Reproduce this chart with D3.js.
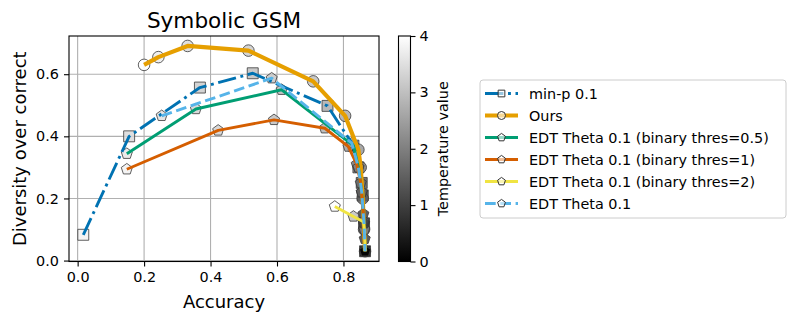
<!DOCTYPE html>
<html>
<head>
<meta charset="utf-8">
<script src="https://cdn.jsdelivr.net/npm/d3@7"></script>
<style>
  body { margin: 0; background: #fff; }
  text { font-family: "DejaVu Sans", sans-serif; fill: #000; }
</style>
</head>
<body>
<div id="chart"></div>
<script>
// series data (accuracy, diversity over correct, temperature)
const minpX = [0.017, 0.155, 0.368, 0.527, 0.752, 0.830, 0.845, 0.855, 0.858, 0.862, 0.865];
const minpY = [0.083, 0.400, 0.557, 0.603, 0.498, 0.370, 0.300, 0.250, 0.210, 0.120, 0.030];
const minpT = [3.8, 3.4, 3.2, 3.0, 2.7, 2.3, 2.0, 1.4, 1.1, 0.7, 0.1];

const oursX = [0.200, 0.243, 0.331, 0.514, 0.709, 0.805, 0.845, 0.852, 0.858, 0.862, 0.865];
const oursY = [0.630, 0.655, 0.691, 0.676, 0.577, 0.466, 0.357, 0.300, 0.200, 0.100, 0.030];
const oursT = [4.0, 3.7, 3.4, 3.2, 3.0, 2.7, 2.4, 2.0, 1.5, 1.0, 0.1];

const edt05X = [0.148, 0.356, 0.614, 0.830, 0.845, 0.855, 0.862, 0.865];
const edt05Y = [0.344, 0.488, 0.550, 0.370, 0.300, 0.220, 0.120, 0.030];
const edt05T = [3.6, 3.3, 2.9, 2.4, 2.0, 1.5, 0.9, 0.1];

const edt1X = [0.148, 0.423, 0.591, 0.744, 0.815, 0.840, 0.852, 0.860, 0.865];
const edt1Y = [0.294, 0.419, 0.453, 0.426, 0.367, 0.310, 0.250, 0.150, 0.030];
const edt1T = [3.8, 3.3, 3.0, 2.8, 2.5, 2.2, 1.7, 1.0, 0.1];

const edt2X = [0.774, 0.830, 0.860, 0.863, 0.864, 0.865];
const edt2Y = [0.174, 0.142, 0.125, 0.100, 0.070, 0.030];
const edt2T = [4.0, 3.0, 2.5, 2.0, 1.0, 0.1];

const edtX = [0.253, 0.584, 0.825, 0.845, 0.855, 0.862, 0.865];
const edtY = [0.466, 0.587, 0.378, 0.300, 0.220, 0.120, 0.030];
const edtT = [3.5, 3.1, 2.4, 2.0, 1.5, 0.9, 0.1];

const seriesNames = ["min-p 0.1", "Ours", "EDT Theta 0.1 (binary thres=0.5)",
  "EDT Theta 0.1 (binary thres=1)", "EDT Theta 0.1 (binary thres=2)", "EDT Theta 0.1"];
const xTicks = [0.0, 0.2, 0.4, 0.6, 0.8];
const yTicks = [0.0, 0.2, 0.4, 0.6];
const tempTicks = [0, 1, 2, 3, 4];

const series = [
  { name: seriesNames[0], x: minpX, y: minpY, t: minpT, color: "#0072B2", lw: 2.9, dash: "18.4,4.6,2.9,4.6", marker: "square" },
  { name: seriesNames[1], x: oursX, y: oursY, t: oursT, color: "#E69F00", lw: 4.2, dash: null, marker: "circle" },
  { name: seriesNames[2], x: edt05X, y: edt05Y, t: edt05T, color: "#009E73", lw: 2.9, dash: null, marker: "pentagon" },
  { name: seriesNames[3], x: edt1X, y: edt1Y, t: edt1T, color: "#D55E00", lw: 2.9, dash: null, marker: "pentagon" },
  { name: seriesNames[4], x: edt2X, y: edt2Y, t: edt2T, color: "#F0E442", lw: 2.9, dash: null, marker: "pentagon" },
  { name: seriesNames[5], x: edtX, y: edtY, t: edtT, color: "#56B4E9", lw: 2.9, dash: "10.7,4.6", marker: "pentagon" }
];

const width = 797, height = 322;
const margin = { top: 36, left: 69, right: 379, bottom: 261.5 };

const svg = d3.select("#chart").append("svg")
  .attr("width", width)
  .attr("height", height);

const xScale = d3.scaleLinear().domain([-0.026, 0.907]).range([margin.left, margin.right]);
const yScale = d3.scaleLinear().domain([-0.003, 0.723]).range([margin.bottom, margin.top]);
const grey = d3.scaleLinear().domain([0, 4]).range(["#000000", "#ffffff"]);

const symbols = {
  square: d3.symbol().type(d3.symbolSquare).size(120),
  circle: d3.symbol().type(d3.symbolCircle).size(105),
  pentagon: d3.symbol().type(pentagon()).size(80)
};

function pentagon() {
  return {
    draw(ctx, size) {
      const r = Math.sqrt(size / 2.3776);
      for (let i = 0; i < 5; i++) {
        const a = -Math.PI / 2 + i * 2 * Math.PI / 5;
        if (i === 0) ctx.moveTo(r * Math.cos(a), r * Math.sin(a));
        else ctx.lineTo(r * Math.cos(a), r * Math.sin(a));
      }
      ctx.closePath();
    }
  };
}

// grid
svg.append("g").selectAll("line.gx")
  .data(xTicks).enter().append("line")
  .attr("x1", d => xScale(d)).attr("x2", d => xScale(d))
  .attr("y1", margin.top).attr("y2", margin.bottom)
  .attr("stroke", "#b0b0b0").attr("stroke-width", 1.1);
svg.append("g").selectAll("line.gy")
  .data(yTicks).enter().append("line")
  .attr("y1", d => yScale(d)).attr("y2", d => yScale(d))
  .attr("x1", margin.left).attr("x2", margin.right)
  .attr("stroke", "#b0b0b0").attr("stroke-width", 1.1);

// scatter markers, coloured by temperature
series.forEach(s => {
  svg.append("g").selectAll("path")
    .data(s.x.map((x, i) => ({ x: x, y: s.y[i], t: s.t[i] })))
    .enter().append("path")
    .attr("d", symbols[s.marker])
    .attr("transform", d => `translate(${xScale(d.x)},${yScale(d.y)})`)
    .attr("fill", d => grey(d.t))
    .attr("fill-opacity", 0.85)
    .attr("stroke", "#3a3a3a")
    .attr("stroke-opacity", 0.8)
    .attr("stroke-width", 1);
});

// lines
const line = d3.line().x(d => xScale(d[0])).y(d => yScale(d[1]));
series.forEach(s => {
  svg.append("path")
    .datum(s.x.map((x, i) => [x, s.y[i]]))
    .attr("d", line)
    .attr("fill", "none")
    .attr("stroke", s.color)
    .attr("stroke-width", s.lw)
    .attr("stroke-dasharray", s.dash)
    .attr("stroke-linejoin", "round");
});

// axes
const xAxis = d3.axisBottom(xScale).tickValues(xTicks).tickFormat(d3.format(".1f")).tickSize(5).tickPadding(5);
const yAxis = d3.axisLeft(yScale).tickValues(yTicks).tickFormat(d3.format(".1f")).tickSize(5).tickPadding(5);

const gx = svg.append("g").attr("transform", `translate(0,${margin.bottom})`).call(xAxis);
const gy = svg.append("g").attr("transform", `translate(${margin.left},0)`).call(yAxis);
[gx, gy].forEach(g => {
  g.select(".domain").remove();
  g.selectAll("line").attr("stroke", "#000").attr("stroke-width", 1.1);
  g.selectAll("text").style("font-size", "14.4px").style("font-family", "DejaVu Sans");
});

svg.append("rect")
  .attr("x", margin.left).attr("y", margin.top)
  .attr("width", margin.right - margin.left).attr("height", margin.bottom - margin.top)
  .attr("fill", "none").attr("stroke", "#000").attr("stroke-width", 1.1);

svg.append("text")
  .attr("x", (margin.left + margin.right) / 2).attr("y", 28)
  .attr("text-anchor", "middle").style("font-size", "21.6px")
  .text("Symbolic GSM");
svg.append("text")
  .attr("x", (margin.left + margin.right) / 2).attr("y", 308)
  .attr("text-anchor", "middle").style("font-size", "18px")
  .text("Accuracy");
svg.append("text")
  .attr("transform", `translate(26,${(margin.top + margin.bottom) / 2}) rotate(-90)`)
  .attr("text-anchor", "middle").style("font-size", "18px")
  .text("Diversity over correct");

// colorbar
const cb = { x: 398.5, w: 12, top: margin.top, bottom: margin.bottom };
const grad = svg.append("defs").append("linearGradient")
  .attr("id", "cbgrad").attr("x1", 0).attr("x2", 0).attr("y1", 1).attr("y2", 0);
grad.append("stop").attr("offset", "0%").attr("stop-color", grey(0));
grad.append("stop").attr("offset", "100%").attr("stop-color", grey(4));
svg.append("rect")
  .attr("x", cb.x).attr("y", cb.top).attr("width", cb.w).attr("height", cb.bottom - cb.top)
  .attr("fill", "url(#cbgrad)").attr("stroke", "#000").attr("stroke-width", 1.1);
const cScale = d3.scaleLinear().domain([0, 4]).range([cb.bottom, cb.top]);
const gc = svg.append("g").attr("transform", `translate(${cb.x + cb.w},0)`)
  .call(d3.axisRight(cScale).tickValues(tempTicks).tickFormat(d3.format("d")).tickSize(5).tickPadding(4));
gc.select(".domain").remove();
gc.selectAll("line").attr("stroke", "#000").attr("stroke-width", 1.1);
gc.selectAll("text").style("font-size", "14.4px").style("font-family", "DejaVu Sans");
svg.append("text")
  .attr("transform", `translate(448,${(cb.top + cb.bottom) / 2}) rotate(-90)`)
  .attr("text-anchor", "middle").style("font-size", "14.4px")
  .text("Temperature value");

// legend
const legend = svg.append("g").attr("transform", "translate(480,80)");
legend.append("rect")
  .attr("x", 0).attr("y", 0).attr("width", 306).attr("height", 138)
  .attr("rx", 3).attr("fill", "#fff").attr("fill-opacity", 0.8)
  .attr("stroke", "#cccccc").attr("stroke-width", 1);
const legendSym = {
  square: d3.symbol().type(d3.symbolSquare).size(45),
  circle: d3.symbol().type(d3.symbolCircle).size(50),
  pentagon: d3.symbol().type(pentagon()).size(40)
};
series.forEach((s, i) => {
  const g = legend.append("g").attr("transform", `translate(0,${13.5 + i * 22})`);
  g.append("line")
    .attr("x1", 5).attr("x2", 38).attr("y1", 0).attr("y2", 0)
    .attr("stroke", s.color).attr("stroke-width", s.lw)
    .attr("stroke-dasharray", s.dash);
  g.append("path")
    .attr("d", legendSym[s.marker])
    .attr("transform", "translate(21.5,0)")
    .attr("fill", "#fff").attr("fill-opacity", 0.6)
    .attr("stroke", "#333").attr("stroke-width", 1);
  g.append("text")
    .attr("x", 49).attr("y", 5).style("font-size", "14.4px")
    .text(s.name);
});
</script>
</body>
</html>
